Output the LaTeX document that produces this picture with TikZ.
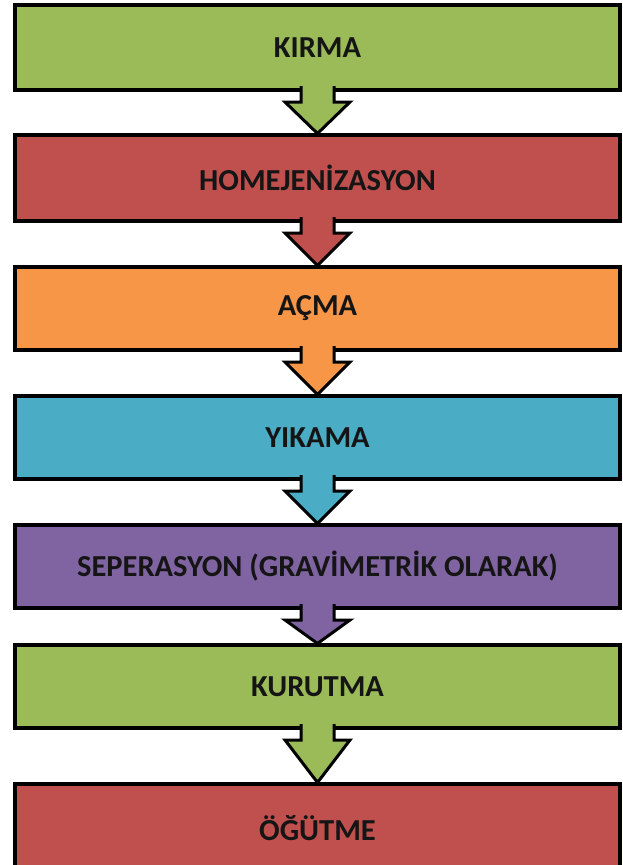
\documentclass[tikz,border=0pt]{standalone}
\usepackage{fontspec}
\setmainfont{Carlito}
\usetikzlibrary{calc}
\definecolor{cgreen}{HTML}{9BBB59}
\definecolor{cred}{HTML}{C0504D}
\definecolor{corange}{HTML}{F79646}
\definecolor{cblue}{HTML}{4BACC6}
\definecolor{cpurple}{HTML}{8064A2}
\definecolor{ctext}{HTML}{151515}
\tikzset{
  stepbox/.style={draw=black, line width=4pt, rectangle, minimum width=605pt,
    inner sep=0pt, outer sep=0pt, text=ctext,
    font=\fontsize{30.5}{33}\selectfont\bfseries},
  flowarrow/.style={draw=black, line width=3pt, line join=miter}
}
\newcommand{\flowarr}[3]{%
  \path let \p1=(#1.south), \p2=(#2.north) in
    [flowarrow, fill=#3]
    (\x1-16.5pt,\y1+4pt) -- (\x1-16.5pt,\y1-12pt) -- (\x1-32.5pt,\y1-12pt)
    -- (\x1,\y2+1.5pt) -- (\x1+32.5pt,\y1-12pt) -- (\x1+16.5pt,\y1-12pt)
    -- (\x1+16.5pt,\y1+4pt);
}
\begin{document}
\begin{tikzpicture}[x=1pt,y=1pt]
\useasboundingbox (0,0) rectangle (623,-865);
\fill[white] (0,0) rectangle (623,-865);
\begin{scope}
\clip (0,0) rectangle (623,-865);
\node[stepbox, fill=cgreen, minimum height=85pt] (b1) at (317.5,-47.5) {KIRMA};
\node[stepbox, fill=cred, minimum height=86pt] (b2) at (317.5,-178) {HOMEJENİZASYON};
\node[stepbox, fill=corange, minimum height=83pt] (b3) at (317.5,-308.5) {AÇMA};
\node[stepbox, fill=cblue, minimum height=83pt] (b4) at (317.5,-437.5) {YIKAMA};
\node[stepbox, fill=cpurple, minimum height=83pt] (b5) at (317.5,-566.5) {SEPERASYON (GRAVİMETRİK OLARAK)};
\node[stepbox, fill=cgreen, minimum height=83pt] (b6) at (317.5,-686.5) {KURUTMA};
\node[stepbox, fill=cred, minimum height=88pt] (b7) at (317.5,-828) {ÖĞÜTME};
\flowarr{b1}{b2}{cgreen}
\flowarr{b2}{b3}{cred}
\flowarr{b3}{b4}{corange}
\flowarr{b4}{b5}{cblue}
\flowarr{b5}{b6}{cpurple}
\flowarr{b6}{b7}{cgreen}
\end{scope}
\end{tikzpicture}
\end{document}
